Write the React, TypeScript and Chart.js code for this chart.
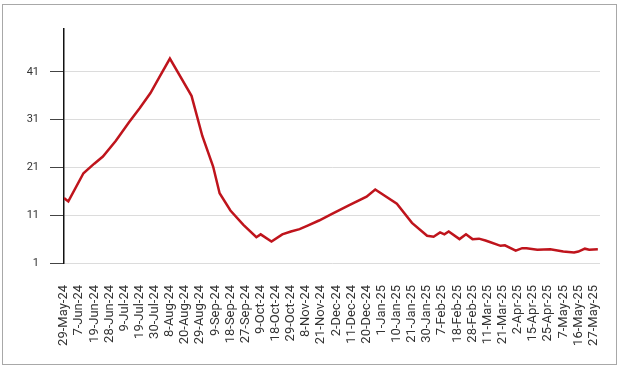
import React, { useEffect, useRef } from "react";
import { Chart, registerables } from "chart.js";

Chart.register(...registerables);

// Tick labels, one every 7 trading days
const tickLabels = [
  "29-May-24", "7-Jun-24", "19-Jun-24", "28-Jun-24", "9-Jul-24", "19-Jul-24",
  "30-Jul-24", "8-Aug-24", "20-Aug-24", "29-Aug-24", "9-Sep-24", "18-Sep-24",
  "27-Sep-24", "9-Oct-24", "18-Oct-24", "29-Oct-24", "8-Nov-24", "21-Nov-24",
  "2-Dec-24", "11-Dec-24", "20-Dec-24", "1-Jan-25", "10-Jan-25", "21-Jan-25",
  "30-Jan-25", "7-Feb-25", "18-Feb-25", "28-Feb-25", "11-Mar-25", "21-Mar-25",
  "2-Apr-25", "15-Apr-25", "25-Apr-25", "7-May-25", "16-May-25", "27-May-25",
];
const tickEvery = 7;

// Trading-day index of each sampled point, and its value
const dayIndex = [
  0, 2, 9, 14, 18, 24, 30, 35, 40, 44, 49,
  59, 64, 69, 72, 77, 83, 89, 91, 96,
  101, 105, 109, 113, 118, 124, 132, 140, 144,
  154, 161, 168, 171, 174, 176, 178, 183, 186, 189, 192, 195, 197,
  202, 204, 209, 212, 214, 219, 225, 231, 236, 238, 241, 243, 247,
];
const values = [
  14.6, 13.9, 19.8, 21.8, 23.3, 26.6, 30.4, 33.4, 36.6, 39.8, 43.8,
  36.0, 27.6, 21.2, 15.6, 12.0, 9.0, 6.4, 7.0, 5.5,
  7.0, 7.6, 8.1, 8.9, 9.9, 11.3, 13.1, 14.9, 16.4,
  13.4, 9.4, 6.7, 6.5, 7.4, 7.0, 7.6, 6.0, 7.0, 6.0, 6.1, 5.7, 5.4,
  4.6, 4.7, 3.6, 4.1, 4.1, 3.8, 3.9, 3.4, 3.2, 3.4, 4.0, 3.8, 3.9,
];

const yTicks = [1, 11, 21, 31, 41];
const yMin = 1;
const yMax = 50;
const xMax = 248;

export default function App() {
  const ref = useRef<HTMLCanvasElement | null>(null);

  useEffect(() => {
    if (!ref.current) return;
    const points = dayIndex.map((d, i) => ({ x: d, y: values[i] }));
    const chart = new Chart(ref.current, {
      type: "line",
      data: {
        datasets: [
          {
            data: points,
            borderColor: "#bf141c",
            borderWidth: 2.5,
            pointRadius: 0,
            tension: 0,
            fill: false,
          },
        ],
      },
      options: {
        animation: false,
        responsive: false,
        devicePixelRatio: 1,
        layout: { padding: { top: 29, right: 19, left: 0, bottom: 0 } },
        plugins: { legend: { display: false }, tooltip: { enabled: false } },
        scales: {
          x: {
            type: "linear",
            min: 0,
            max: xMax,
            grid: { display: false, drawTicks: true, tickLength: 20 },
            border: { display: false },
            afterBuildTicks: (scale: any) => {
              scale.ticks = tickLabels.map((_, i) => ({ value: i * tickEvery }));
            },
            afterFit: (scale: any) => {
              scale.height = 105;
              scale.paddingLeft = 0;
              scale.paddingRight = 0;
            },
            ticks: {
              autoSkip: false,
              minRotation: 90,
              maxRotation: 90,
              padding: 2,
              color: "#333",
              font: { family: "Roboto", size: 13 },
              callback: (v: any) => {
                const i = Math.round(Number(v) / tickEvery);
                return tickLabels[i] ?? "";
              },
            },
          },
          y: {
            type: "linear",
            min: yMin,
            max: yMax,
            afterBuildTicks: (scale: any) => {
              scale.ticks = yTicks.map((v) => ({ value: v }));
            },
            afterFit: (scale: any) => {
              scale.width = 64;
            },
            grid: {
              color: "#dcdcdc",
              lineWidth: 1,
              tickColor: "#444",
              tickLength: 14,
              drawTicks: true,
            },
            border: { display: true, color: "#111", width: 1.5 },
            ticks: {
              padding: 11,
              color: "#333",
              font: { family: "Roboto", size: 11 },
            },
          },
        },
      },
    });
    return () => chart.destroy();
  }, []);

  return (
    <div style={{ position: "absolute", left: 0, top: 0, width: 619, height: 368, background: "#fff" }}>
      <div
        style={{
          position: "absolute",
          left: 2,
          top: 4,
          width: 613,
          height: 359,
          border: "1px solid #a8a8a8",
        }}
      />
      <canvas
        ref={ref}
        width={619}
        height={368}
        style={{ position: "absolute", left: 0, top: 0, width: 619, height: 368 }}
      />
    </div>
  );
}
